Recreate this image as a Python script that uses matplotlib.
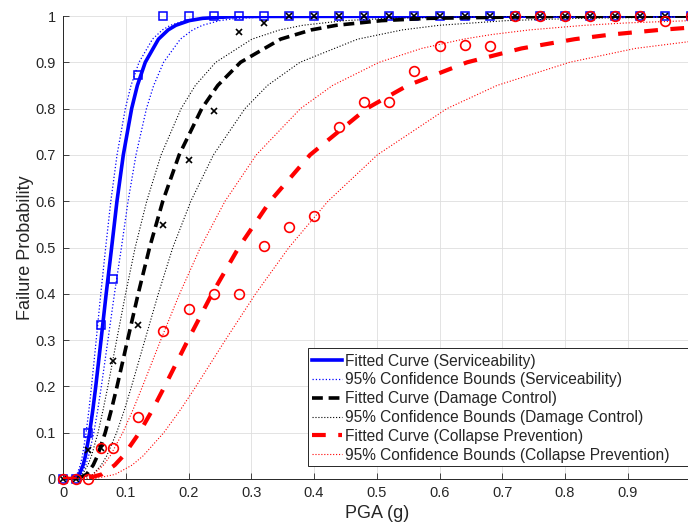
import matplotlib
matplotlib.use("Agg")
import matplotlib.pyplot as plt
from matplotlib.patches import Rectangle

plt.rcParams['font.family'] = ['Liberation Sans', 'DejaVu Sans']

# ---- observed data points ----
pga = [0, 0.02, 0.04, 0.06, 0.08, 0.12, 0.16, 0.20, 0.24, 0.28, 0.32, 0.36, 0.40, 0.44,
       0.48, 0.52, 0.56, 0.60, 0.64, 0.68, 0.72, 0.76, 0.80, 0.84, 0.88, 0.92, 0.96, 1.00]
serv_obs = [0, 0, 0.10, 0.333, 0.433, 0.873, 1, 1, 1, 1, 1, 1, 1, 1,
            1, 1, 1, 1, 1, 1, 1, 1, 1, 1, 1, 1, 1, 1]
dc_obs = [0, 0, 0.063, 0.067, 0.255, 0.333, 0.548, 0.69, 0.795, 0.965, 0.985, 1, 1, 1,
          1, 1, 1, 1, 1, 1, 1, 1, 1, 1, 1, 1, 1, 1]
cp_obs = [0, 0, 0, 0.067, 0.067, 0.133, 0.32, 0.368, 0.40, 0.40, 0.503, 0.545, 0.568, 0.76,
          0.815, 0.815, 0.882, 0.935, 0.937, 0.935, 1, 1, 1, 1, 1, 1, 0.99, 1]

# ---- fitted curves and bounds (PGA where curve reaches prob level) ----
prob_levels = [0, 0.001, 0.01, 0.03, 0.05, 0.1, 0.15, 0.2, 0.3, 0.4, 0.5, 0.6, 0.7, 0.8,
               0.85, 0.9, 0.95, 0.97, 0.98, 0.99, 0.995, 0.999, 1.0]
serv_fit_x = [0, 0.0181, 0.0260, 0.0320, 0.0358, 0.0424, 0.0476, 0.0522, 0.0606, 0.0688,
              0.0775, 0.0860, 0.0961, 0.1094, 0.1185, 0.1311, 0.1521, 0.1676, 0.1799,
              0.2011, 0.2228, 0.2751, 1.0]
serv_hi_x = [0, 0.0154, 0.0223, 0.0276, 0.0309, 0.0368, 0.0414, 0.0454, 0.0529, 0.0602,
             0.0680, 0.0762, 0.0861, 0.0993, 0.1084, 0.1211, 0.1426, 0.1585, 0.1714,
             0.1937, 0.2167, 0.2731, 1.0]
serv_lo_x = [0, 0.0199, 0.0291, 0.0364, 0.0409, 0.0491, 0.0555, 0.0611, 0.0716, 0.0820,
             0.0931, 0.1037, 0.1163, 0.1330, 0.1445, 0.1603, 0.1870, 0.2067, 0.2224,
             0.2496, 0.2775, 0.3451, 1.0]
dc_fit_x = [0, 0.0245, 0.0375, 0.0481, 0.0549, 0.0673, 0.0772, 0.0861, 0.1029, 0.1198,
            0.1380, 0.1590, 0.1851, 0.2211, 0.2466, 0.2829, 0.3467, 0.3957, 0.4359,
            0.5077, 0.5839, 0.7787, 1.0]
dc_hi_x = [0, 0.0201, 0.0309, 0.0397, 0.0454, 0.0558, 0.0640, 0.0715, 0.0855, 0.0997,
           0.1150, 0.1334, 0.1563, 0.1882, 0.2109, 0.2434, 0.3010, 0.3456, 0.3824,
           0.4484, 0.5190, 0.7010, 1.0]
dc_lo_p = [0, 0.001, 0.01, 0.03, 0.05, 0.1, 0.15, 0.2, 0.3, 0.4, 0.5, 0.6, 0.7, 0.8,
           0.85, 0.9, 0.95, 0.97, 0.98, 0.99, 0.995, 0.998]
dc_lo_x = [0, 0.0310, 0.0476, 0.0610, 0.0697, 0.0854, 0.0980, 0.1092, 0.1305, 0.1519,
           0.1750, 0.2037, 0.2397, 0.2900, 0.3259, 0.3776, 0.4696, 0.5410, 0.6002,
           0.7066, 0.8209, 1.0]
cp_fit_p = [0, 0.001, 0.01, 0.03, 0.05, 0.1, 0.15, 0.2, 0.3, 0.4, 0.5, 0.6, 0.7, 0.8,
            0.85, 0.9, 0.93, 0.95, 0.96, 0.97, 0.975]
cp_fit_x = [0, 0.0376, 0.0617, 0.0824, 0.0961, 0.1217, 0.1428, 0.1620, 0.1991, 0.2375,
            0.2800, 0.3301, 0.3937, 0.4838, 0.5492, 0.6441, 0.7308, 0.8157, 0.8737,
            0.9510, 1.0]
cp_hi_p = [0, 0.001, 0.01, 0.03, 0.05, 0.1, 0.15, 0.2, 0.3, 0.4, 0.5, 0.6, 0.7, 0.8,
           0.85, 0.9, 0.93, 0.95, 0.96, 0.97, 0.98, 0.985, 0.99]
cp_hi_x = [0, 0.0294, 0.0483, 0.0645, 0.0752, 0.0952, 0.1117, 0.1267, 0.1557, 0.1858,
           0.2190, 0.2582, 0.3080, 0.3784, 0.4296, 0.5038, 0.5716, 0.6380, 0.6834,
           0.7438, 0.8323, 0.8975, 1.0]
cp_lo_p = [0, 0.001, 0.01, 0.03, 0.05, 0.1, 0.15, 0.2, 0.3, 0.4, 0.5, 0.6, 0.7, 0.8,
           0.85, 0.9, 0.93, 0.945]
cp_lo_x = [0, 0.0514, 0.0832, 0.1101, 0.1277, 0.1606, 0.1874, 0.2119, 0.2587, 0.3069,
           0.3600, 0.4223, 0.5009, 0.6118, 0.6916, 0.8072, 0.9122, 1.0]

labels = ['Fitted Curve (Serviceability)', '95% Confidence Bounds (Serviceability)',
          'Fitted Curve (Damage Control)', '95% Confidence Bounds (Damage Control)',
          'Fitted Curve (Collapse Prevention)', '95% Confidence Bounds (Collapse Prevention)']
ticks = [0, 0.1, 0.2, 0.3, 0.4, 0.5, 0.6, 0.7, 0.8, 0.9, 1.0]
tick_labels = ['0', '0.1', '0.2', '0.3', '0.4', '0.5', '0.6', '0.7', '0.8', '0.9', '1']

DG = '#262626'
BLUE = '#0000ff'
RED = '#ff0000'
W, H = 688, 527

fig = plt.figure(figsize=(6.88, 5.27), dpi=100)
ax = fig.add_axes([63 / W, 48 / H, 627.5 / W, 463 / H])

# Serviceability
ax.plot(pga, serv_obs, ls='none', marker='s', ms=5.3, mfc='none', mec=BLUE, mew=1.1,
        clip_on=False, zorder=3)
h1, = ax.plot(serv_fit_x, prob_levels, color=BLUE, lw=2.6, zorder=3)
h2, = ax.plot(serv_hi_x, prob_levels, color=BLUE, lw=0.9, ls=':', zorder=3)
ax.plot(serv_lo_x, prob_levels, color=BLUE, lw=0.9, ls=':', zorder=3)

# Damage Control
ax.plot(pga, dc_obs, ls='none', marker='x', ms=5, mec='k', mew=1.2,
        clip_on=False, zorder=3)
h3, = ax.plot(dc_fit_x, prob_levels, color='k', lw=2.6, dashes=(3.0, 1.6), zorder=3)
h4, = ax.plot(dc_hi_x, prob_levels, color='k', lw=0.8, ls=':', zorder=3)
ax.plot(dc_lo_x, dc_lo_p, color='k', lw=0.8, ls=':', zorder=3)

# Collapse Prevention
ax.plot(pga, cp_obs, ls='none', marker='o', ms=7, mfc='none', mec=RED, mew=1.2,
        clip_on=False, zorder=3)
h5, = ax.plot(cp_fit_x, cp_fit_p, color=RED, lw=3.0, dashes=(3.3, 3.0), zorder=3)
h6, = ax.plot(cp_hi_x, cp_hi_p, color=RED, lw=0.8, ls=':', zorder=3)
ax.plot(cp_lo_x, cp_lo_p, color=RED, lw=0.8, ls=':', zorder=3)

ax.set_xlim(0, 1)
ax.set_ylim(0, 1)
ax.set_xticks(ticks)
ax.set_xticklabels(tick_labels)
ax.set_yticks(ticks)
ax.set_yticklabels(tick_labels)
ax.grid(True, color='#dedede', lw=0.6)
ax.set_axisbelow(True)
for s in ['top', 'right']:
    ax.spines[s].set_visible(False)
for s in ['left', 'bottom']:
    ax.spines[s].set_color(DG)
    ax.spines[s].set_linewidth(0.7)
ax.tick_params(direction='in', length=4, width=0.6, colors=DG, labelsize=10.5, pad=5)

ax.set_xlabel('PGA (g)', fontsize=13, color=DG, labelpad=3.5)
ax.set_ylabel('Failure Probability', fontsize=13, color=DG, labelpad=1.5)

# legend box (extends past the right edge as in the reference)
box = Rectangle((307.5 / W, 1 - 466 / H), (705 - 307.5) / W, (466 - 348) / H,
                transform=fig.transFigure, facecolor='white', edgecolor=DG,
                linewidth=0.7, zorder=4)
fig.patches.append(box)

leg = fig.legend([h1, h2, h3, h4, h5, h6], labels, loc='upper left',
                 bbox_to_anchor=(307 / W, 1 - 349 / H), bbox_transform=fig.transFigure,
                 fontsize=11.2, frameon=False, borderpad=0.3, labelspacing=0.245,
                 handlelength=1.95, handletextpad=0.18, borderaxespad=0)
leg.set_zorder(5)
for t in leg.get_texts():
    t.set_color(DG)

fig.savefig('out.png', dpi=100)
